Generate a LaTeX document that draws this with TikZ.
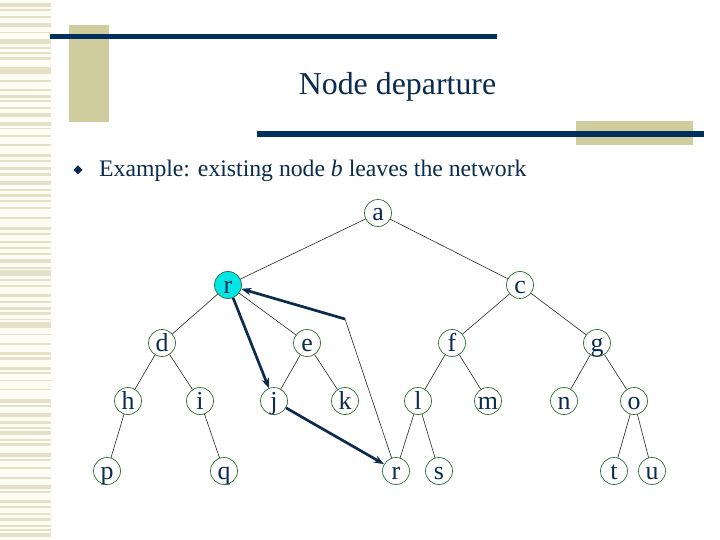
\documentclass[tikz,border=0pt]{standalone}
\usepackage{fontspec}
\setmainfont{Liberation Serif}
\usetikzlibrary{arrows.meta}
\definecolor{navy}{HTML}{0B2C4E}
\definecolor{barblue}{HTML}{00305E}
\definecolor{beige}{HTML}{CFCC9E}
\definecolor{stripe}{HTML}{E4E1C8}
\definecolor{paper}{HTML}{FEFDF4}
\definecolor{ringgreen}{HTML}{2F6E2F}
\definecolor{nodecyan}{HTML}{00E6E6}
\tikzset{
  tnode/.style={circle, draw=ringgreen, line width=0.7bp, minimum size=27bp, inner sep=0pt,
    text height=16bp, text depth=0bp, text=navy, font=\fontsize{26}{28}\selectfont},
  hot/.style={tnode, fill=nodecyan},
  edge/.style={draw=black!85, line width=0.6bp},
  move/.style={draw=navy, line width=2.7bp, -{Stealth[length=10bp,width=7.5bp]}},
  bar/.style={fill=barblue, draw=none},
  block/.style={fill=beige, draw=none}
}
\begin{document}
\begin{tikzpicture}[x=1bp,y=-1bp]
\useasboundingbox (0,0) rectangle (720,540);
\fill[white] (0,0) rectangle (720,540);
% left stripes
\fill[paper] (0,0) rectangle (51,540);
\foreach \ya/\yb in {3/7,9/11,16/18,23/27,32/33,39/44,47/49,52/54,57/60,67/74,80/82,89/91,95/98,100/102,107/109,113/117,122/126,128/129,135/137,144/146,154/157,160/162,167/170,173/176,181/185,189/191,194/197,200/202,207/209,217/219,227/230,233/235,241/243,247/249,253/255,259/263,267/269,270/276,279/281,285/287,294/297,301/303,307/310,312/315,319/320,322/328,334/335,343/345,352/355,357/360,367/370,372/374,380/381,389/390,399/403,405/407,413/417,421/424,427/429,431/435,439/441,443/446,453/457,459/461,467/469,477/479,485/489,491/493,500/503,506/508,513/515,518/521,525/527,529/531,533/537}
  \fill[stripe] (0,\ya) rectangle (51,\yb);
% title decorations
\fill[block] (69,25) rectangle (109,122);
\fill[block] (576,121) rectangle (693,145);
\fill[bar] (50,34) rectangle (497,39.5);
\fill[bar] (257,131) rectangle (704,137);
\node[text=navy, font=\fontsize{32}{36}\selectfont, anchor=base] (title) at (397.5,95) {Node departure};
% bullet
\fill[navy] (78,165.5) -- (82.5,170) -- (78,174.5) -- (73.5,170) -- cycle;
\node[text=navy, font=\fontsize{23.8}{28}\selectfont, anchor=base west, inner sep=0pt] (ex) at (99,177) {Example: existing node \textit{b} leaves the network};
% tree nodes
\node[tnode] (a) at (378,213) {a};
\node[hot]   (r) at (228,285) {r};
\node[tnode] (c) at (520,285) {c};
\node[tnode] (d) at (162,343) {d};
\node[tnode] (e) at (307,343) {e};
\node[tnode] (f) at (452,343) {f};
\node[tnode] (g) at (597,343) {g};
\node[tnode] (h) at (128,401) {h};
\node[tnode] (i) at (200,401) {i};
\node[tnode] (j) at (274,401) {j};
\node[tnode] (k) at (345,401) {k};
\node[tnode] (l) at (418,401) {l};
\node[tnode] (m) at (488,401) {m};
\node[tnode] (n) at (564,401) {n};
\node[tnode] (o) at (634,401) {o};
\node[tnode] (p) at (107,471) {p};
\node[tnode] (q) at (224,471) {q};
\node[tnode] (r2) at (396,471) {r};
\node[tnode] (s) at (439,471) {s};
\node[tnode] (t) at (614,471) {t};
\node[tnode] (u) at (652,471) {u};
% tree edges
\foreach \x/\y in {a/r,a/c,r/d,r/e,c/f,c/g,d/h,d/i,e/j,e/k,f/l,f/m,g/n,g/o,h/p,i/q,l/r2,l/s,o/t,o/u}
  \draw[edge] (\x) -- (\y);
% moves
\coordinate (bend) at (345,319);
\draw[edge] (r2) -- (bend);
\draw[move] (bend) -- (r);
\draw[move] (r) -- (j);
\draw[move] (j) -- (r2);
\end{tikzpicture}
\end{document}
